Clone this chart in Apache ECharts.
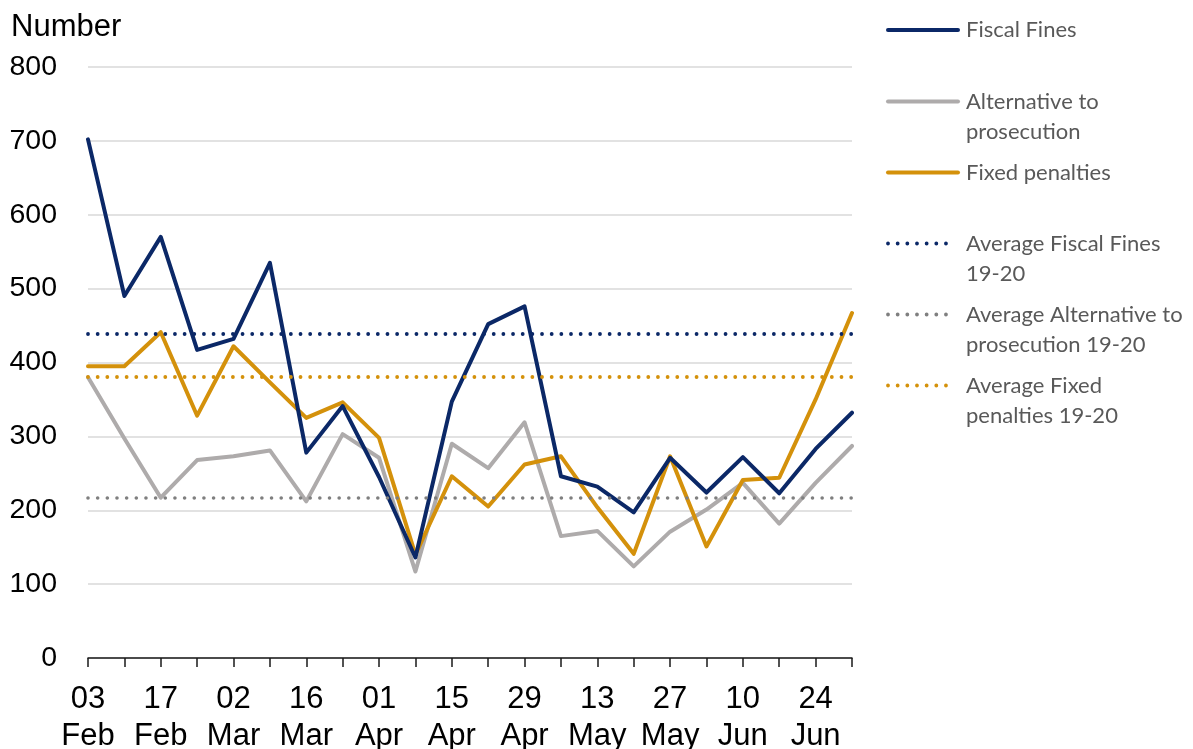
<!DOCTYPE html>
<html>
<head>
<meta charset="utf-8">
<script src="https://cdn.jsdelivr.net/npm/echarts@6/dist/echarts.min.js"></script>
<style>
html,body{margin:0;padding:0;background:#fff;}
#chart{width:1193px;height:749px;}
</style>
</head>
<body>
<div id="chart"></div>
<script>
// ---- Data ----
const weeks = ["03\nFeb","10\nFeb","17\nFeb","24\nFeb","02\nMar","09\nMar","16\nMar","23\nMar","01\nApr","08\nApr","15\nApr","22\nApr","29\nApr","06\nMay","13\nMay","20\nMay","27\nMay","03\nJun","10\nJun","17\nJun","24\nJun","01\nJul"];
const fiscalFines = [702, 490, 570, 417, 432, 535, 278, 341, 245, 136, 347, 452, 476, 246, 232, 197, 271, 224, 272, 223, 283, 332];
const alternativeToProsecution = [380, 297, 217, 268, 273, 281, 212, 303, 271, 117, 290, 257, 319, 165, 172, 124, 171, 201, 237, 182, 237, 287];
const fixedPenalties = [395, 395, 441, 328, 422, 373, 325, 346, 298, 140, 246, 205, 262, 273, 204, 141, 273, 151, 241, 244, 350, 467];
const avgFiscalFines = 439;
const avgAlternative = 217;
const avgFixedPenalties = 381;
const yTicks = {min: 0, max: 800, interval: 100};

const names = ["Fiscal Fines", "Alternative to\nprosecution", "Fixed penalties",
  "Average Fiscal Fines\n19-20", "Average Alternative to\nprosecution 19-20", "Average Fixed\npenalties 19-20"];

const C_NAVY = '#0B2867', C_GREY = '#AEABAB', C_ORANGE = '#D4910B', C_GREYDOT = '#7F7F7F';
const DOTS = [0.01, 9.65];

function lineSeries(name, data, color) {
  return {
    name: name, type: 'line', data: data, symbol: 'none', smooth: false,
    lineStyle: {color: color, width: 4, cap: 'round', join: 'round'},
    itemStyle: {color: color}, emphasis: {disabled: true}, silent: true, z: 3
  };
}
function avgSeries(name, value, color, w) {
  return {
    name: name, type: 'line', data: [], symbol: 'none', silent: true,
    markLine: {
      silent: true, symbol: 'none', label: {show: false}, animation: false,
      emphasis: {disabled: true},
      lineStyle: {color: color, width: w, type: DOTS, cap: 'round'},
      data: [{yAxis: value}]
    }, z: 2
  };
}

const legendItems = [
  {text: names[0], color: C_NAVY, y: 30, dotted: false},
  {text: names[1], color: C_GREY, y: 101.5, dotted: false},
  {text: names[2], color: C_ORANGE, y: 172.5, dotted: false},
  {text: names[3], color: C_NAVY, y: 243.5, dotted: true},
  {text: names[4], color: C_GREYDOT, y: 314.5, dotted: true},
  {text: names[5], color: C_ORANGE, y: 385.5, dotted: true}
];
const graphics = [];
legendItems.forEach(it => {
  graphics.push({
    type: 'line', silent: true,
    shape: {x1: 888, y1: it.y, x2: it.dotted ? 950 : 958, y2: it.y},
    style: it.dotted
      ? {stroke: it.color, lineWidth: 3.8, lineCap: 'round', lineDash: DOTS}
      : {stroke: it.color, lineWidth: 4, lineCap: 'round'}
  });
  graphics.push({
    type: 'text', silent: true, x: 966, y: it.y - 15,
    style: {text: it.text, fill: '#595959', font: '22px Lato', lineHeight: 30, verticalAlign: 'top', align: 'left'}
  });
});

const chart = echarts.init(document.getElementById('chart'), null, {renderer: 'canvas'});
chart.setOption({
  animation: false,
  backgroundColor: '#fff',
  title: {text: 'Number', left: 6, top: 7, textStyle: {fontFamily: 'Liberation Sans', fontSize: 31, fontWeight: 'normal', color: '#000'}},
  grid: {left: 88, right: 341, top: 67, bottom: 91, containLabel: false, outerBoundsMode: 'none'},
  xAxis: {
    type: 'category', data: weeks, boundaryGap: false,
    axisLine: {lineStyle: {color: '#1A1A1A', width: 1.5}},
    axisTick: {show: true, interval: 0, length: 9, lineStyle: {color: '#1A1A1A', width: 1.5}},
    axisLabel: {interval: 1, margin: 23, fontFamily: 'Liberation Sans', fontSize: 31, lineHeight: 37, color: '#000'},
    splitLine: {show: false}
  },
  yAxis: {
    type: 'value', min: yTicks.min, max: yTicks.max, interval: yTicks.interval,
    axisLine: {show: false}, axisTick: {show: false},
    axisLabel: {margin: 31, fontFamily: 'Liberation Sans', fontSize: 28.5, color: '#000'},
    splitLine: {lineStyle: {color: '#D9D9D9', width: 1.5}}
  },
  graphic: graphics,
  series: [
    avgSeries(names[3], avgFiscalFines, C_NAVY, 3.8),
    avgSeries(names[4], avgAlternative, C_GREYDOT, 3.6),
    avgSeries(names[5], avgFixedPenalties, C_ORANGE, 3.8),
    lineSeries(names[1], alternativeToProsecution, C_GREY),
    lineSeries(names[2], fixedPenalties, C_ORANGE),
    lineSeries(names[0], fiscalFines, C_NAVY)
  ]
});
</script>
</body>
</html>
